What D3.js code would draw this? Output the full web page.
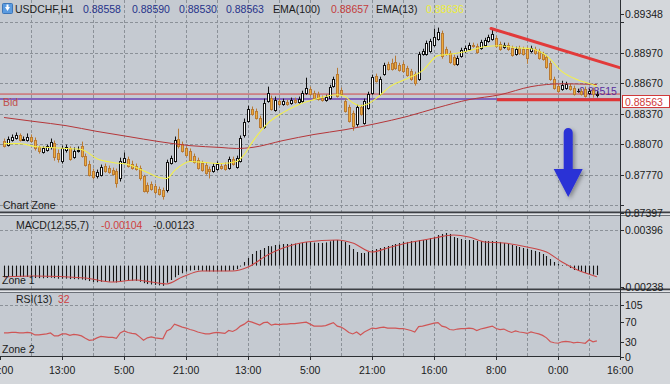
<!DOCTYPE html>
<html><head><meta charset="utf-8">
<script src="https://cdn.jsdelivr.net/npm/d3@7"></script>
<style>
body{margin:0;background:#c5cad1;}
svg{display:block;font-family:"Liberation Sans",Arial,sans-serif;font-size:10.5px;}
</style>
</head><body><svg id="c" width="670" height="384"></svg>
<script>
// ---------------- DATA ----------------
const symbol = "USDCHF,H1";
const ohlcTitle = ["0.88558","0.88590","0.88530","0.88563"];
const openP = [
0.88105,0.88065,0.88115,0.88135,0.88155,0.88115,0.88115,0.88145,0.88115,0.88037,
0.87997,0.88017,0.88037,0.88085,0.87987,0.87907,0.88017,0.88027,0.87947,0.88007,
0.88047,0.87957,0.87879,0.87809,0.87752,0.87769,0.87859,0.87839,0.87819,0.87809,
0.87732,0.87899,0.87927,0.87879,0.87859,0.87839,0.87752,0.87672,0.87682,0.87662,
0.87632,0.87622,0.87622,0.87889,0.87907,0.88125,0.88075,0.88027,0.88007,0.87957,
0.87917,0.87889,0.87869,0.87829,0.87809,0.87829,0.87859,0.87869,0.87839,0.87927,
0.87849,0.87907,0.88155,0.88302,0.88420,0.88400,0.88332,0.88242,0.88498,0.88528,
0.88410,0.88498,0.88468,0.88488,0.88478,0.88508,0.88488,0.88498,0.88576,0.88616,
0.88576,0.88566,0.88528,0.88508,0.88528,0.88646,0.88764,0.88606,0.88498,0.88440,
0.88380,0.88272,0.88440,0.88282,0.88430,0.88576,0.88744,0.88566,0.88764,0.88861,
0.88871,0.88881,0.88851,0.88861,0.88821,0.88794,0.88764,0.88714,0.88959,0.88959,
0.88989,0.89049,0.89107,0.89167,0.89009,0.88969,0.88931,0.88861,0.88941,0.88989,
0.89009,0.89049,0.89039,0.89019,0.89049,0.89089,0.89107,0.89117,0.89059,0.89029,
0.89049,0.89019,0.88959,0.89019,0.89009,0.89009,0.88989,0.89009,0.88989,0.88959,
0.88931,0.88871,0.88714,0.88646,0.88616,0.88626,0.88646,0.88626,0.88596,0.88596,
0.88616,0.88576,0.88606,0.88558];
const highP = [
0.88125,0.88145,0.88165,0.88185,0.88175,0.88145,0.88175,0.88165,0.88135,0.88055,
0.88047,0.88065,0.88125,0.88105,0.88017,0.88055,0.88065,0.88047,0.88037,0.88047,
0.88095,0.87977,0.87907,0.87829,0.87819,0.87869,0.87879,0.87859,0.87839,0.87829,
0.87937,0.87987,0.87947,0.87907,0.87879,0.87859,0.87769,0.87692,0.87702,0.87682,
0.87652,0.87642,0.87917,0.87957,0.88145,0.88222,0.88095,0.88047,0.88027,0.87977,
0.87937,0.87907,0.87889,0.87849,0.87879,0.87899,0.87879,0.87889,0.87947,0.87947,
0.87957,0.88155,0.88322,0.88448,0.88440,0.88420,0.88350,0.88518,0.88636,0.88548,
0.88538,0.88518,0.88518,0.88508,0.88528,0.88528,0.88538,0.88596,0.88724,0.88636,
0.88596,0.88586,0.88548,0.88556,0.88654,0.88734,0.88821,0.88626,0.88518,0.88458,
0.88400,0.88458,0.88458,0.88518,0.88586,0.88754,0.88764,0.88734,0.88871,0.88881,
0.88911,0.88941,0.88871,0.88881,0.88841,0.88811,0.88784,0.88979,0.89009,0.89089,
0.89107,0.89207,0.89217,0.89187,0.89029,0.88989,0.88949,0.88941,0.89019,0.89039,
0.89069,0.89069,0.89059,0.89097,0.89117,0.89147,0.89197,0.89137,0.89079,0.89069,
0.89069,0.89039,0.89029,0.89039,0.89029,0.89029,0.89039,0.89029,0.89009,0.88979,
0.88949,0.88891,0.88734,0.88664,0.88694,0.88684,0.88664,0.88646,0.88616,0.88616,
0.88636,0.88616,0.88626,0.88590];
const lowP = [
0.88037,0.88047,0.88095,0.88115,0.88095,0.88105,0.88095,0.88085,0.88007,0.87977,
0.87977,0.87997,0.88017,0.87907,0.87889,0.87879,0.87987,0.87907,0.87927,0.87987,
0.87937,0.87849,0.87752,0.87722,0.87732,0.87752,0.87789,0.87779,0.87759,0.87642,
0.87702,0.87879,0.87839,0.87819,0.87809,0.87712,0.87594,0.87584,0.87612,0.87574,
0.87564,0.87524,0.87594,0.87869,0.87889,0.88027,0.87987,0.87947,0.87899,0.87879,
0.87819,0.87799,0.87769,0.87732,0.87789,0.87809,0.87819,0.87809,0.87819,0.87859,
0.87829,0.87889,0.88135,0.88282,0.88350,0.88312,0.88222,0.88222,0.88478,0.88400,
0.88390,0.88448,0.88448,0.88448,0.88458,0.88468,0.88468,0.88478,0.88556,0.88548,
0.88508,0.88498,0.88488,0.88488,0.88508,0.88626,0.88528,0.88548,0.88380,0.88282,
0.88202,0.88242,0.88350,0.88262,0.88410,0.88556,0.88676,0.88548,0.88744,0.88794,
0.88794,0.88801,0.88784,0.88774,0.88734,0.88694,0.88646,0.88694,0.88941,0.88941,
0.88969,0.89029,0.89089,0.88911,0.88941,0.88861,0.88841,0.88841,0.88921,0.88969,
0.88989,0.89019,0.88959,0.88999,0.89029,0.89069,0.89089,0.89019,0.88989,0.89009,
0.88989,0.88931,0.88941,0.88949,0.88941,0.88861,0.88969,0.88949,0.88901,0.88891,
0.88811,0.88694,0.88606,0.88576,0.88596,0.88606,0.88596,0.88548,0.88576,0.88548,
0.88528,0.88556,0.88528,0.88530];
const closeP = [
0.88055,0.88125,0.88145,0.88155,0.88115,0.88125,0.88145,0.88105,0.88027,0.88007,
0.88027,0.88047,0.88095,0.87947,0.87927,0.88027,0.88037,0.87927,0.88007,0.88017,
0.87957,0.87869,0.87769,0.87742,0.87799,0.87849,0.87809,0.87799,0.87779,0.87692,
0.87907,0.87937,0.87859,0.87839,0.87829,0.87732,0.87612,0.87612,0.87632,0.87594,
0.87584,0.87564,0.87899,0.87937,0.88115,0.88047,0.88007,0.87967,0.87917,0.87899,
0.87839,0.87819,0.87789,0.87809,0.87859,0.87879,0.87839,0.87829,0.87927,0.87879,
0.87937,0.88135,0.88292,0.88420,0.88370,0.88332,0.88242,0.88478,0.88576,0.88420,
0.88508,0.88468,0.88498,0.88468,0.88508,0.88488,0.88518,0.88576,0.88626,0.88566,
0.88528,0.88518,0.88508,0.88538,0.88636,0.88714,0.88548,0.88566,0.88400,0.88302,
0.88252,0.88440,0.88370,0.88498,0.88566,0.88734,0.88694,0.88714,0.88851,0.88811,
0.88811,0.88821,0.88801,0.88794,0.88754,0.88714,0.88674,0.88959,0.88989,0.89069,
0.89089,0.89127,0.89177,0.88941,0.88959,0.88881,0.88861,0.88921,0.88999,0.89019,
0.89049,0.89039,0.88979,0.89079,0.89097,0.89127,0.89157,0.89039,0.89009,0.89049,
0.89009,0.88949,0.89009,0.88969,0.88959,0.88921,0.89019,0.88969,0.88921,0.88911,
0.88831,0.88714,0.88626,0.88596,0.88654,0.88664,0.88616,0.88566,0.88596,0.88566,
0.88548,0.88596,0.88566,0.88563];

// EMA(13) and EMA(100) read at sample bars
const ema13Bars = [0,4,8,12,16,20,24,28,32,36,40,42,44,48,52,56,60,62,64,68,72,76,80,84,86,88,90,92,94,96,100,104,108,112,116,120,124,128,132,136,140,144,148,152,153];
const ema13Vals = [0.88075,0.88075,0.88047,0.88037,0.88027,0.88017,0.87927,0.87889,0.87869,0.87809,0.87742,0.87732,0.87809,0.87899,0.87889,0.87879,0.87899,0.87967,0.88085,0.88272,0.88380,0.88458,0.88508,0.88548,0.88556,0.88538,0.88478,0.88448,0.88468,0.88518,0.88646,0.88714,0.88794,0.88941,0.88959,0.88989,0.89029,0.89039,0.89019,0.89009,0.88941,0.88784,0.88704,0.88654,0.88636];
const ema100Bars = [0,8,16,24,32,40,48,56,60,64,72,80,88,96,104,112,120,128,136,144,153];
const ema100Vals = [0.88332,0.88292,0.88252,0.88195,0.88145,0.88095,0.88055,0.88037,0.88027,0.88037,0.88105,0.88165,0.88212,0.88272,0.88342,0.88430,0.88508,0.88556,0.88636,0.88664,0.88657];

// MACD(12,55,7): main as histogram per bar, signal read at sample bars
const macdHist = [
-0.00127,-0.00127,-0.00127,-0.00127,-0.00127,-0.00127,-0.00127,-0.00132,-0.00138,-0.00140,
-0.00141,-0.00138,-0.00135,-0.00140,-0.00146,-0.00145,-0.00145,-0.00150,-0.00150,-0.00152,
-0.00155,-0.00162,-0.00172,-0.00182,-0.00185,-0.00180,-0.00178,-0.00178,-0.00180,-0.00188,
-0.00175,-0.00165,-0.00165,-0.00168,-0.00170,-0.00180,-0.00195,-0.00205,-0.00210,-0.00215,
-0.00220,-0.00225,-0.00190,-0.00160,-0.00130,-0.00105,-0.00085,-0.00065,-0.00055,-0.00050,
-0.00052,-0.00058,-0.00062,-0.00065,-0.00066,-0.00065,-0.00063,-0.00062,-0.00058,-0.00052,
-0.00040,-0.00010,0.00040,0.00085,0.00129,0.00163,0.00174,0.00196,0.00218,0.00215,
0.00229,0.00235,0.00240,0.00240,0.00242,0.00245,0.00250,0.00255,0.00262,0.00260,
0.00255,0.00252,0.00252,0.00258,0.00270,0.00285,0.00285,0.00280,0.00263,0.00229,
0.00185,0.00151,0.00140,0.00140,0.00151,0.00174,0.00185,0.00196,0.00207,0.00218,
0.00229,0.00240,0.00251,0.00263,0.00263,0.00274,0.00274,0.00285,0.00285,0.00296,
0.00307,0.00318,0.00340,0.00352,0.00363,0.00352,0.00318,0.00307,0.00296,0.00285,
0.00285,0.00285,0.00274,0.00274,0.00274,0.00274,0.00274,0.00274,0.00263,0.00251,
0.00240,0.00229,0.00218,0.00207,0.00196,0.00185,0.00174,0.00163,0.00151,0.00129,
0.00107,0.00073,0.00040,0.00018,0.00007,-0.00004,-0.00027,-0.00049,-0.00060,-0.00071,
-0.00082,-0.00093,-0.00100,-0.00104];
const signalBars = [0,8,21,28,34,38,42,46,51,59,63,68,72,78,86,90,95,99,104,111,116,120,124,129,135,140,144,148,153];
const signalVals = [-0.00127,-0.00116,-0.00138,-0.00182,-0.00160,-0.00182,-0.00204,-0.00127,-0.00060,-0.00060,-0.00016,0.00118,0.00196,0.00263,0.00285,0.00251,0.00151,0.00196,0.00251,0.00307,0.00340,0.00318,0.00263,0.00251,0.00207,0.00151,0.00040,-0.00049,-0.00123];
const macdTitle = ["-0.00104","-0.00123"];

// RSI(13) per bar
const rsiVals = [
48,48,49,49,48,48,49,48,44,44, 45,46,48,42,42,46,46,43,45,44,
42,37,33,34,38,41,40,39,39,37, 48,52,49,47,46,40,33,38,40,38,
37,36,52,56,66,63,60,58,55,53, 50,48,46,46,48,49,48,47,53,51,
55,62,66,72,70,67,64,69,70,64, 66,65,66,66,67,67,68,69,70,66,
62,62,62,63,66,69,62,60,55,49, 46,50,44,50,54,58,57,59,60,58,
58,58,57,57,55,53,50,61,62,64, 66,68,69,62,60,55,54,56,57,57,
58,57,53,56,58,60,62,57,55,56, 52,49,52,50,49,47,50,48,46,43,
38,30,28,27,30,31,30,28,29,28, 27,34,30,32];

// axes / ticks
const priceLabels = [0.89348,0.88970,0.88670,0.88370,0.88070,0.87770,0.87397];
const priceGrid = [0.89270,0.88970,0.88670,0.88370,0.88070,0.87770,0.87470];
const macdLabels = [0.00396,-0.00238];
const rsiLabels = [105,70,30,0];
const gridBars = [7,15,23,31,39,47,55,63,71,79,87,95,103,111,119,127,135,143,151];
const timeBars = [-1,15,31,47,63,79,95,111,127,143,159];
const timeLabels = ["21:00","13:00","5:00","21:00","13:00","5:00","21:00","16:00","8:00","0:00","16:00"];

// objects on chart
const bidPrice = 0.88563;
const hLinePrice = 0.88515;
const trendBars = [125.7,159.2], trendPrices = [0.89208,0.88819];
const supportBars = [127.2,159.2], supportPrice = 0.88507;
const arrowBar = 145.6, arrowTop = 0.88229, arrowBase = 0.87825, arrowTip = 0.87550;

// ---------------- DRAWING ----------------
const W=670,H=384;
const svg=d3.select('#c');
const x=d3.scaleLinear().domain([0,153]).range([4,596.875]);
const yP=d3.scaleLinear().domain([0.87397,0.89348]).range([212.5,14.3]);
const yM=d3.scaleLinear().domain([-0.00238,0.00396]).range([287,230]);
const yR=d3.scaleLinear().domain([0,105]).range([356.5,305]);
const px=v=>Math.round(v)+0.5;
const TXT='#1b1b1b';

const defs=svg.append('defs');
defs.append('clipPath').attr('id','cpMain').append('rect').attr('x',0).attr('y',0).attr('width',620).attr('height',212);
defs.append('clipPath').attr('id','cpMacd').append('rect').attr('x',0).attr('y',216).attr('width',620).attr('height',73);
defs.append('clipPath').attr('id','cpRsi').append('rect').attr('x',0).attr('y',293).attr('width',620).attr('height',63);
const f=defs.append('filter').attr('id','sh').attr('x','-50%').attr('y','-50%').attr('width','200%').attr('height','200%');
f.append('feDropShadow').attr('dx',2).attr('dy',2).attr('stdDeviation',2).attr('flood-color','#000').attr('flood-opacity',0.35);

// backgrounds
svg.append('rect').attr('width',W).attr('height',H).attr('fill','#c5cad1');
svg.append('rect').attr('x',621).attr('y',0).attr('width',49).attr('height',H).attr('fill','#d4d7db');
svg.append('rect').attr('x',0).attr('y',357).attr('width',W).attr('height',27).attr('fill','#d4d7db');

// grid
const grid=svg.append('g').attr('stroke','#8b9198').attr('stroke-dasharray','3,2').attr('stroke-width',1).attr('fill','none');
gridBars.forEach(b=>{
  [[0,212],[216,289],[293,356]].forEach(([a,z])=>grid.append('line').attr('x1',px(x(b))).attr('x2',px(x(b))).attr('y1',a).attr('y2',z));
});
priceGrid.forEach(p=>grid.append('line').attr('x1',0).attr('x2',620).attr('y1',px(yP(p))).attr('y2',px(yP(p))));
grid.append('line').attr('x1',0).attr('x2',620).attr('y1',px(yM(macdLabels[0]))).attr('y2',px(yM(macdLabels[0])));
grid.append('line').attr('x1',0).attr('x2',620).attr('y1',px(yR(rsiLabels[0]))).attr('y2',px(yR(rsiLabels[0])));

// ---- main pane
const main=svg.append('g').attr('clip-path','url(#cpMain)');
main.append('line').attr('x1',0).attr('x2',620).attr('y1',yP(bidPrice)).attr('y2',yP(bidPrice)).attr('stroke','#d24848').attr('stroke-width',1);
main.append('line').attr('x1',0).attr('x2',620).attr('y1',yP(hLinePrice)).attr('y2',yP(hLinePrice)).attr('stroke','#6b3fb5').attr('stroke-width',1.5);
main.append('text').attr('x',579).attr('y',yP(hLinePrice)-3.5).attr('fill','#5a2d9e').text(d3.format('.5f')(hLinePrice));
main.append('text').attr('x',3).attr('y',106).attr('fill','#c0504d').text('Bid');

const bars=d3.range(closeP.length).map(i=>({i,o:openP[i],h:highP[i],l:lowP[i],c:closeP[i]}));
const cg=main.append('g');
bars.forEach(d=>{
  const cx=Math.round(x(d.i))+0.5;
  const bull=d.c>=d.o;
  const wc=bull?'#111':'#b87a34';
  cg.append('line').attr('x1',cx).attr('x2',cx).attr('y1',yP(d.h)).attr('y2',yP(d.l)).attr('stroke',wc).attr('stroke-width',1);
  const y1=yP(Math.max(d.o,d.c)), y2=yP(Math.min(d.o,d.c));
  const top=Math.round(y1)+0.5, hgt=Math.max(Math.round(y2)-Math.round(y1),0);
  if(hgt<1){
    cg.append('line').attr('x1',cx-1.5).attr('x2',cx+1.5).attr('y1',top).attr('y2',top).attr('stroke',wc);
  } else {
    cg.append('rect').attr('x',cx-1).attr('y',top).attr('width',2).attr('height',hgt)
      .attr('fill',bull?'#ffffff':'#eeac3e').attr('stroke',bull?'#111':'#b87a34').attr('stroke-width',1);
  }
});

const lineFn=(ys)=>d3.line().x(d=>x(d[0])).y(d=>ys(d[1])).curve(d3.curveMonotoneX);
main.append('path').attr('d',lineFn(yP)(ema100Bars.map((b,k)=>[b,ema100Vals[k]]))).attr('fill','none').attr('stroke','#b5373a').attr('stroke-width',1);
main.append('path').attr('d',lineFn(yP)(ema13Bars.map((b,k)=>[b,ema13Vals[k]]))).attr('fill','none').attr('stroke','#f3f04a').attr('stroke-width',1.1);

// trend lines
main.append('line').attr('x1',x(trendBars[0])).attr('y1',yP(trendPrices[0])).attr('x2',x(trendBars[1])).attr('y2',yP(trendPrices[1]))
  .attr('stroke','#e23a3a').attr('stroke-width',3).attr('stroke-linecap','round');
main.append('line').attr('x1',x(supportBars[0])).attr('y1',yP(supportPrice)).attr('x2',x(supportBars[1])).attr('y2',yP(supportPrice))
  .attr('stroke','#e03636').attr('stroke-width',3);

// arrow
{
  const ax=x(arrowBar), yt=yP(arrowTop), yb=yP(arrowBase), yk=yP(arrowTip), sw=4.5, hw=14.5;
  const p=`M${ax-sw},${yt+sw} A${sw},${sw} 0 0 1 ${ax+sw},${yt+sw} L${ax+sw},${yb} L${ax+hw},${yb} L${ax},${yk} L${ax-hw},${yb} L${ax-sw},${yb} Z`;
  main.append('path').attr('d',p).attr('fill','#2b30d6').attr('filter','url(#sh)');
}
main.append('text').attr('x',3).attr('y',209).attr('fill',TXT).text('Chart Zone');

// ---- MACD pane
const mg=svg.append('g').attr('clip-path','url(#cpMacd)');
macdHist.forEach((v,i)=>{
  const cx=Math.round(x(i))+0.5;
  mg.append('line').attr('x1',cx).attr('x2',cx).attr('y1',yM(0)).attr('y2',yM(v)).attr('stroke','#151515').attr('stroke-width',1.1);
});
mg.append('path').attr('d',lineFn(yM)(signalBars.map((b,k)=>[b,signalVals[k]]))).attr('fill','none').attr('stroke','#c94545').attr('stroke-width',1.1);
svg.append('text').attr('x',2).attr('y',284).attr('fill',TXT).text('Zone 1');

// ---- RSI pane
const rg=svg.append('g').attr('clip-path','url(#cpRsi)');
rg.append('path').attr('d',d3.line().x((d,i)=>x(i)).y(d=>yR(d))(rsiVals)).attr('fill','none').attr('stroke','#cf5656').attr('stroke-width',1.2);
svg.append('text').attr('x',2).attr('y',353).attr('fill',TXT).text('Zone 2');

// ---- separators and axes
const sep=(y)=>{
  svg.append('rect').attr('x',0).attr('y',y).attr('width',W).attr('height',2).attr('fill','#3c3f44');
  svg.append('rect').attr('x',0).attr('y',y+2).attr('width',W).attr('height',1.5).attr('fill','#e4e6e9');
  svg.append('rect').attr('x',0).attr('y',y+3.5).attr('width',W).attr('height',1).attr('fill','#6b7077');
};
sep(211.5); sep(288.5);
svg.append('line').attr('x1',620.5).attr('x2',620.5).attr('y1',0).attr('y2',357).attr('stroke','#2c2f33').attr('stroke-width',1);
svg.append('line').attr('x1',0).attr('x2',621).attr('y1',356.5).attr('y2',356.5).attr('stroke','#2c2f33').attr('stroke-width',1);

const ax=svg.append('g').attr('fill',TXT);
const tick=(y)=>svg.append('line').attr('x1',620).attr('x2',624).attr('y1',px(y)).attr('y2',px(y)).attr('stroke','#2c2f33');
priceGrid.forEach(p=>tick(yP(p)));
priceLabels.forEach(p=>{tick(yP(p)); ax.append('text').attr('x',625).attr('y',yP(p)+4).text(d3.format('.5f')(p));});
macdLabels.forEach(v=>{tick(yM(v)); ax.append('text').attr('x',v<0?622:625).attr('y',yM(v)+4).text(d3.format('.5f')(v).replace('\u2212','-'));});
rsiLabels.forEach(v=>{tick(yR(v)); ax.append('text').attr('x',625).attr('y',yR(v)+4).text(v);});
timeBars.forEach((b,k)=>{
  svg.append('line').attr('x1',px(x(b))).attr('x2',px(x(b))).attr('y1',357).attr('y2',360).attr('stroke','#2c2f33');
  ax.append('text').attr('x',x(b)).attr('y',374).attr('text-anchor','middle').text(timeLabels[k]);
});

// bid price box
svg.append('rect').attr('x',622.5).attr('y',95.5).attr('width',47).attr('height',12).attr('fill','#ffffff').attr('stroke','#d03a3a');
svg.append('text').attr('x',625).attr('y',105.5).attr('fill','#d03a3a').text(d3.format('.5f')(bidPrice));

// ---- titles
const icon=svg.append('g');
icon.append('rect').attr('x',2.5).attr('y',3.5).attr('width',10).attr('height',10).attr('rx',1).attr('fill','#5b9be0').attr('stroke','#3d76b8');
icon.append('path').attr('d','M5,7 L10,7 L7.5,11 Z').attr('fill','#fff');
icon.append('rect').attr('x',6.5).attr('y',4.5).attr('width',2).attr('height',3).attr('fill','#fff');
const tt=[[15,symbol,TXT],[83,ohlcTitle[0],'#26328a'],[132,ohlcTitle[1],'#26328a'],[179,ohlcTitle[2],'#26328a'],[226,ohlcTitle[3],'#26328a'],
  [273,'EMA(100)',TXT],[331,d3.format('.5f')(ema100Vals[ema100Vals.length-1]),'#c43c3c'],[376,'EMA(13)',TXT],[426,d3.format('.5f')(ema13Vals[ema13Vals.length-1]),'#eeee3a']];
tt.forEach(([xx,t,c])=>svg.append('text').attr('x',xx).attr('y',13).attr('fill',c).text(t));
svg.append('text').attr('x',16).attr('y',229).attr('fill',TXT).text('MACD(12,55,7)');
svg.append('text').attr('x',101).attr('y',229).attr('fill','#cf3f3f').text(macdTitle[0]);
svg.append('text').attr('x',153).attr('y',229).attr('fill',TXT).text(macdTitle[1]);
svg.append('text').attr('x',16).attr('y',303).attr('fill',TXT).text('RSI(13)');
svg.append('text').attr('x',58).attr('y',303).attr('fill','#cf3f3f').text(rsiVals[rsiVals.length-1]);
</script>
</body></html>
